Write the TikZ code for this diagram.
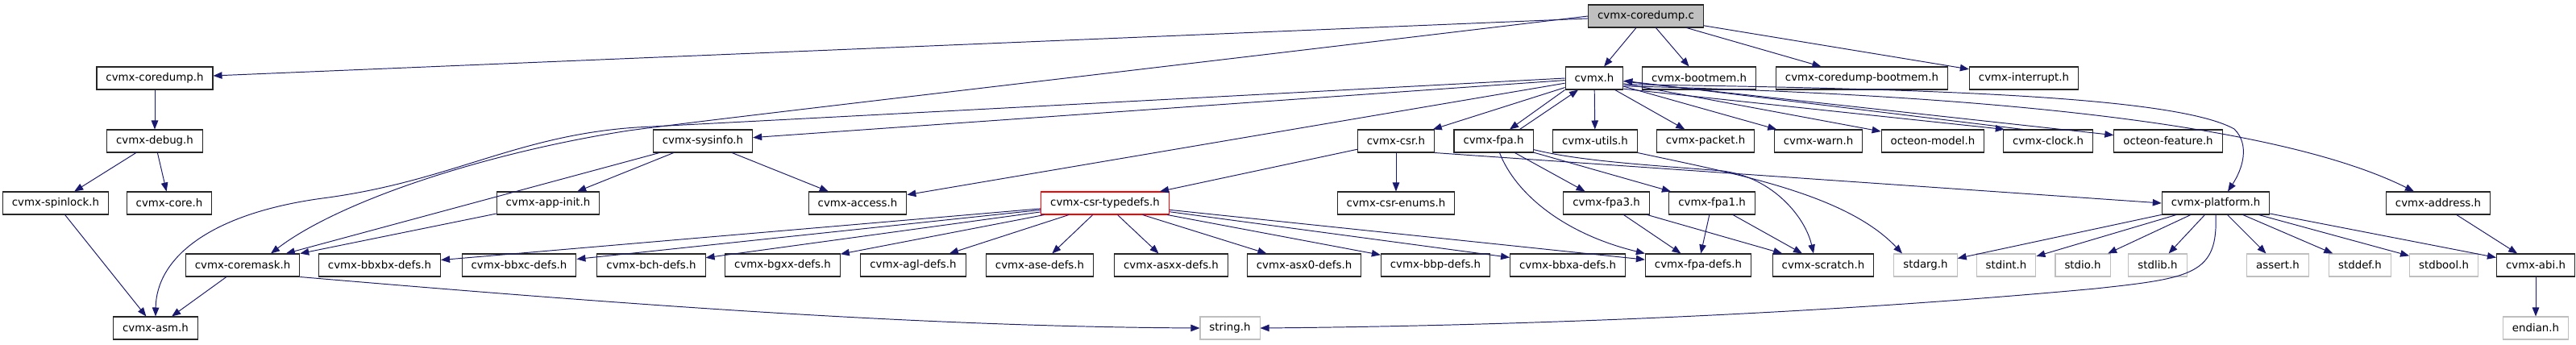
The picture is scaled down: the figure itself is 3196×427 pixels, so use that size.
\documentclass[tikz,border=0pt]{standalone}
\usepackage{fontspec}
\setmainfont{DejaVu Sans}
\usepackage{tikz}
\usetikzlibrary{arrows.meta}
\definecolor{Enlace}{RGB}{25, 25, 112}
\definecolor{Gris}{RGB}{191, 191, 191}

\begin{document}
\begin{tikzpicture}[x=0.02cm, y=-0.02cm,
        file/.style={rectangle, draw=black!85, line width=0.6pt, fill=white, minimum height=0.56cm, inner xsep=0.23cm, inner ysep=0pt, font=\fontsize{7.6}{9}\selectfont},
        sysfile/.style={file, draw=Gris},
        root/.style={file, fill=Gris},
        dep/.style={line width=0.55pt, draw=Enlace, -{Triangle[length=0.22cm, width=0.17cm]}}
    ]
        \useasboundingbox (0,0) rectangle (3196,427);

        % ================= FILA 0: FICHERO RAIZ =================
        \node[root] (coredumpc) at (2042,20) {cvmx-coredump.c};

        % ================= FILA 1 =================
        \node[file] (coredumph) at (192,97) {cvmx-coredump.h};
        \node[file] (cvmxh) at (1978,97) {cvmx.h};
        \node[file] (bootmem) at (2108,97) {cvmx-bootmem.h};
        \node[file] (cdbootmem) at (2310,97) {cvmx-coredump-bootmem.h};
        \node[file] (interrupt) at (2511,97) {cvmx-interrupt.h};

        % ================= FILA 2 =================
        \node[file] (debug) at (192,175) {cvmx-debug.h};
        \node[file] (sysinfo) at (872,175) {cvmx-sysinfo.h};
        \node[file] (csr) at (1732,175) {cvmx-csr.h};
        \node[file] (fpa) at (1853,175) {cvmx-fpa.h};
        \node[file] (utils) at (1979,175) {cvmx-utils.h};
        \node[file] (packet) at (2116,175) {cvmx-packet.h};
        \node[file] (warn) at (2256,175) {cvmx-warn.h};
        \node[file] (model) at (2398,175) {octeon-model.h};
        \node[file] (clock) at (2541,175) {cvmx-clock.h};
        \node[file] (feature) at (2690,175) {octeon-feature.h};

        % ================= FILA 3 =================
        \node[file] (spinlock) at (69,252) {cvmx-spinlock.h};
        \node[file] (core) at (210,252) {cvmx-core.h};
        \node[file] (appinit) at (680,252) {cvmx-app-init.h};
        \node[file] (access) at (1064,252) {cvmx-access.h};
        \node[file, draw=red] (typedefs) at (1371,252) {cvmx-csr-typedefs.h};
        \node[file] (enums) at (1732,252) {cvmx-csr-enums.h};
        \node[file] (fpa3) at (1993,252) {cvmx-fpa3.h};
        \node[file] (fpa1) at (2124,252) {cvmx-fpa1.h};
        \node[file] (platform) at (2749,252) {cvmx-platform.h};
        \node[file] (address) at (3025,252) {cvmx-address.h};

        % ================= FILA 4 =================
        \node[file] (coremask) at (301,329) {cvmx-coremask.h};
        \node[file] (bbxbx) at (471,329) {cvmx-bbxbx-defs.h};
        \node[file] (bbxc) at (644,329) {cvmx-bbxc-defs.h};
        \node[file] (bch) at (808,329) {cvmx-bch-defs.h};
        \node[file] (bgxx) at (971,329) {cvmx-bgxx-defs.h};
        \node[file] (agl) at (1133,329) {cvmx-agl-defs.h};
        \node[file] (ase) at (1290,329) {cvmx-ase-defs.h};
        \node[file] (asxx) at (1453,329) {cvmx-asxx-defs.h};
        \node[file] (asx0) at (1618,329) {cvmx-asx0-defs.h};
        \node[file] (bbp) at (1781,329) {cvmx-bbp-defs.h};
        \node[file] (bbxa) at (1945,329) {cvmx-bbxa-defs.h};
        \node[file] (fpadefs) at (2107,329) {cvmx-fpa-defs.h};
        \node[file] (scratch) at (2262,329) {cvmx-scratch.h};
        \node[sysfile] (stdarg) at (2389,329) {stdarg.h};
        \node[sysfile] (stdint) at (2489,329) {stdint.h};
        \node[sysfile] (stdio) at (2584,329) {stdio.h};
        \node[sysfile] (stdlib) at (2677,329) {stdlib.h};
        \node[sysfile] (assert) at (2826,329) {assert.h};
        \node[sysfile] (stddef) at (2928,329) {stddef.h};
        \node[sysfile] (stdbool) at (3032,329) {stdbool.h};
        \node[file] (abi) at (3146,329) {cvmx-abi.h};

        % ================= FILA 5 =================
        \node[file] (asm) at (193,407) {cvmx-asm.h};
        \node[sysfile] (string) at (1526,407) {string.h};
        \node[sysfile] (endian) at (3146,407) {endian.h};

        % Dependencias de cvmx-coredump.c
        \draw[dep] (coredumpc) -- (coredumph);
        \draw[dep] (coredumpc.west) .. controls (1200,112) and (900,146) .. (780,162) .. controls (600,190) and (420,250) .. ([xshift=0.7cm]coremask.north);
        \draw[dep] (coredumpc) -- (cvmxh);
        \draw[dep] (coredumpc) -- (bootmem);
        \draw[dep] (coredumpc) -- (cdbootmem);
        \draw[dep] (coredumpc) -- (interrupt);

        % Rama izquierda
        \draw[dep] (coredumph) -- (debug);
        \draw[dep] (debug) -- (spinlock);
        \draw[dep] (debug) -- (core);
        \draw[dep] (spinlock) -- (asm);
        \draw[dep] (coremask) -- (asm);
        \draw[dep] (coremask.south east) .. controls (800,380) and (1150,405) .. (string.west);

        % Dependencias de cvmx.h
        \draw[dep] (cvmxh.west) .. controls (1400,126) and (1000,147) .. (790,158) .. controls (640,168) and (560,225) .. (400,246) .. controls (260,265) and (194,320) .. (asm.north);
        \draw[dep] (cvmxh) -- (sysinfo);
        \draw[dep] (cvmxh) -- (access);
        \draw[dep] (cvmxh) -- (csr);
        \draw[dep] (cvmxh.south west) -- ([xshift=0.4cm]fpa.north);
        \draw[dep] ([xshift=0.65cm]fpa.north) -- ([xshift=-0.4cm]cvmxh.south);
        \draw[dep] (cvmxh) -- (utils);
        \draw[dep] (cvmxh) -- (packet);
        \draw[dep] (cvmxh) -- (warn);
        \draw[dep] (cvmxh) -- (model);
        \draw[dep] (cvmxh.-20) -- (clock.165);
        \draw[dep] (clock.155) -- (cvmxh.-5);
        \draw[dep] (cvmxh) -- (feature);
        \draw[dep] (cvmxh.-12) .. controls (2400,110) and (2700,120) .. (2772,160) .. controls (2792,180) and (2782,210) .. ([xshift=0.3cm]platform.north);
        \draw[dep] (cvmxh.-15) .. controls (2350,115) and (2800,140) .. ([xshift=-0.6cm]address.north);

        % cvmx-sysinfo.h y cvmx-app-init.h
        \draw[dep] (sysinfo) -- (appinit);
        \draw[dep] (sysinfo) -- (access);
        \draw[dep] (sysinfo) -- (coremask);
        \draw[dep] (appinit) -- (coremask);

        % cvmx-csr.h
        \draw[dep] (csr) -- (enums);
        \draw[dep] (csr) -- (typedefs);
        \draw[dep] (csr.south east) -- (platform.west);

        % cvmx-fpa.h y cvmx-utils.h
        \draw[dep] (fpa) -- (fpa3);
        \draw[dep] (fpa) -- (fpa1);
        \draw[dep] ([xshift=0.15cm]fpa.south) .. controls (1880,240) and (1940,290) .. (fpadefs.north west);
        \draw[dep] (fpa.-12) .. controls (1960,200) and (2050,205) .. (2137,212) .. controls (2200,220) and (2240,270) .. ([xshift=-0.24cm]scratch.north);
        \draw[dep] (utils.south east) .. controls (2150,215) and (2290,240) .. ([xshift=-0.58cm]stdarg.north);
        \draw[dep] (fpa3) -- (fpadefs);
        \draw[dep] (fpa3) -- (scratch);
        \draw[dep] (fpa1) -- (fpadefs);
        \draw[dep] (fpa1) -- (scratch);

        % cvmx-csr-typedefs.h
        \draw[dep] (typedefs) -- (bbxbx);
        \draw[dep] (typedefs) -- (bbxc);
        \draw[dep] (typedefs) -- (bch);
        \draw[dep] (typedefs) -- (bgxx);
        \draw[dep] (typedefs) -- (agl);
        \draw[dep] (typedefs) -- (ase);
        \draw[dep] (typedefs) -- (asxx);
        \draw[dep] (typedefs) -- (asx0);
        \draw[dep] (typedefs) -- (bbp);
        \draw[dep] (typedefs) -- (bbxa);
        \draw[dep] (typedefs) -- (fpadefs);

        % cvmx-platform.h
        \draw[dep] (platform) -- (stdarg);
        \draw[dep] (platform) -- (stdint);
        \draw[dep] (platform) -- (stdio);
        \draw[dep] (platform) -- (stdlib);
        \draw[dep] (platform) -- (assert);
        \draw[dep] (platform) -- (stddef);
        \draw[dep] (platform) -- (stdbool);
        \draw[dep] (platform) -- (abi);
        \draw[dep] (platform.south) .. controls (2752,340) and (2720,345) .. (2600,358) .. controls (2200,395) and (1800,405) .. (string.east);

        % cvmx-address.h y cvmx-abi.h
        \draw[dep] (address) -- (abi);
        \draw[dep] (abi) -- (endian);
    \end{tikzpicture}
\end{document}
